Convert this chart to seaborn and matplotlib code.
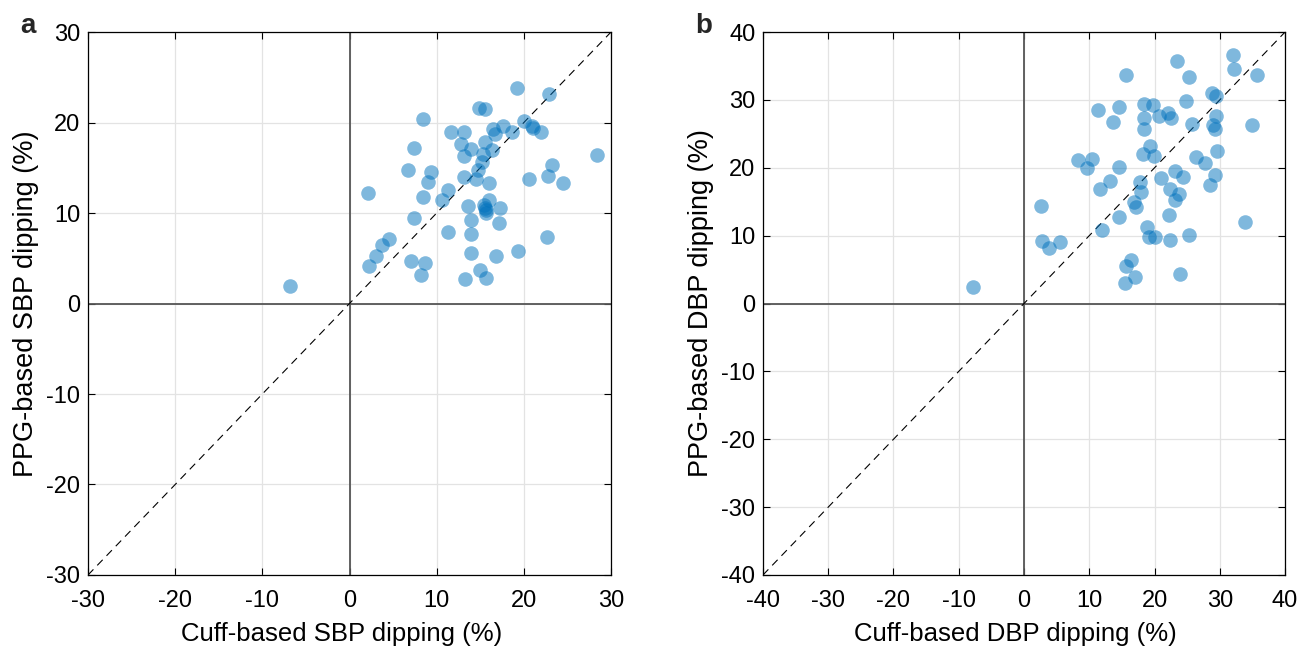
import numpy as np
import pandas as pd
import matplotlib
matplotlib.use("Agg")
import matplotlib.pyplot as plt
import seaborn as sns

# Datos (panel a: SBP, panel b: DBP)
sbp_cuff = [-6.8, 2.1, 2.2, 3.0, 3.7, 4.5, 6.7, 7.0, 7.4, 7.4, 8.4, 8.2, 8.7, 8.4, 9.0,
            9.4, 10.6, 11.3, 11.3, 11.6, 13.1, 12.8, 13.9, 13.1, 13.1, 13.6, 13.9, 13.9,
            13.9, 13.3, 14.9, 15.5, 15.5, 15.3, 15.2, 14.7, 14.5, 16.0, 16.4, 16.5, 16.7,
            17.6, 18.6, 19.2, 20.0, 20.9, 21.0, 22.0, 22.9, 28.4, 23.2, 22.8, 20.6, 24.5,
            16.0, 15.4, 15.7, 15.5, 17.3, 17.2, 16.8, 19.3, 15.0, 15.7, 22.7, 15.7]
sbp_ppg = [1.9, 12.2, 4.1, 5.3, 6.5, 7.1, 14.7, 4.7, 17.2, 9.5, 20.4, 3.2, 4.5, 11.8, 13.4,
           14.5, 11.4, 12.5, 7.9, 18.9, 18.9, 17.6, 17.1, 16.3, 14.0, 10.8, 9.2, 7.7,
           5.6, 2.7, 21.6, 21.5, 17.9, 16.5, 15.6, 14.8, 13.8, 13.3, 17.0, 19.3, 18.7,
           19.6, 19.0, 23.8, 20.2, 19.6, 19.4, 18.9, 23.2, 16.4, 15.3, 14.1, 13.8, 13.3,
           11.4, 10.9, 10.3, 10.6, 10.5, 8.9, 5.2, 5.8, 3.7, 2.8, 7.4, 10.0]

dbp_cuff = [-7.8, 2.6, 2.8, 3.9, 5.5, 8.3, 10.4, 9.6, 11.4, 14.5, 13.7, 15.7, 11.7, 13.2,
            14.5, 11.9, 14.5, 16.8, 17.2, 17.7, 17.9, 18.2, 19.3, 19.9, 18.4, 19.8, 18.4,
            18.4, 20.7, 22.1, 22.5, 23.5, 25.3, 24.8, 25.8, 21.0, 23.2, 24.4, 22.4, 23.8,
            23.1, 22.2, 18.8, 19.1, 20.0, 22.4, 25.3, 16.4, 15.7, 15.4, 17.0, 23.9, 26.4,
            27.8, 29.6, 29.3, 28.5, 28.8, 29.4, 29.4, 29.0, 29.2, 32.0, 32.1, 35.7, 35.0, 33.8]
dbp_ppg = [2.4, 14.4, 9.2, 8.2, 9.0, 21.2, 21.3, 20.0, 28.5, 28.9, 26.8, 33.7, 16.8, 18.0,
           20.1, 10.8, 12.7, 14.9, 14.2, 17.9, 16.4, 22.1, 23.2, 21.8, 29.4, 29.2, 27.3,
           25.7, 27.6, 28.0, 27.4, 35.7, 33.4, 29.9, 26.4, 18.5, 19.5, 18.7, 16.8, 16.2,
           15.3, 13.1, 11.3, 9.8, 9.8, 9.4, 10.1, 6.4, 5.5, 3.0, 3.9, 4.4, 21.6, 20.7,
           22.5, 19.0, 17.4, 31.0, 30.6, 27.6, 26.3, 25.7, 36.6, 34.5, 33.6, 26.3, 12.0]

paneles = [
    ("a", sbp_cuff, sbp_ppg, 30, "Cuff-based SBP dipping (%)", "PPG-based SBP dipping (%)"),
    ("b", dbp_cuff, dbp_ppg, 40, "Cuff-based DBP dipping (%)", "PPG-based DBP dipping (%)"),
]

sns.set_theme(style="white")
plt.rcParams['font.family'] = ['Liberation Sans', 'DejaVu Sans']

fig = plt.figure(figsize=(13.02, 6.47), dpi=100)
posiciones = [[0.0676, 0.1113, 0.4017, 0.8392], [0.586, 0.1113, 0.401, 0.8392]]

for (letra, x, y, lim, xlab, ylab), pos in zip(paneles, posiciones):
    ax = fig.add_axes(pos)
    df = pd.DataFrame({"cuff": x, "ppg": y})
    ax.axhline(0, color="#555555", lw=1.3, zorder=1)
    ax.axvline(0, color="#555555", lw=1.3, zorder=1)
    ax.plot([-lim, lim], [-lim, lim], color="black", lw=0.8, ls=(0, (7, 5)), zorder=2)
    sns.scatterplot(data=df, x="cuff", y="ppg", ax=ax, color="#0072BD", alpha=0.5,
                    s=110, linewidth=0, zorder=3)
    ticks = np.arange(-lim, lim + 1, 10)
    ax.set_xlim(-lim, lim)
    ax.set_ylim(-lim, lim)
    ax.set_xticks(ticks)
    ax.set_yticks(ticks)
    ax.set_xticklabels([str(t) for t in ticks])
    ax.set_yticklabels([str(t) for t in ticks])
    ax.grid(True, color="#e3e3e3", lw=0.9)
    ax.set_axisbelow(True)
    for s in ax.spines.values():
        s.set_color("black")
        s.set_linewidth(0.9)
    ax.tick_params(direction="in", length=5, width=0.8, colors="black",
                   labelsize=17, top=True, right=True, labeltop=False, labelright=False,
                   bottom=True, left=True)
    ax.tick_params(axis="x", pad=11)
    ax.tick_params(axis="y", pad=5.5)
    ax.set_xlabel(xlab, fontsize=18.5, color="black")
    ax.set_ylabel(ylab, fontsize=19.5, color="black")
    ax.xaxis.set_label_coords(0.484, -0.086)
    ax.yaxis.set_label_coords(-0.094, 0.5)
    ax.text(-0.13, 1.012, letra, transform=ax.transAxes, fontsize=20, fontweight="bold",
            ha="left", va="center")

fig.savefig("out.png", dpi=100)
